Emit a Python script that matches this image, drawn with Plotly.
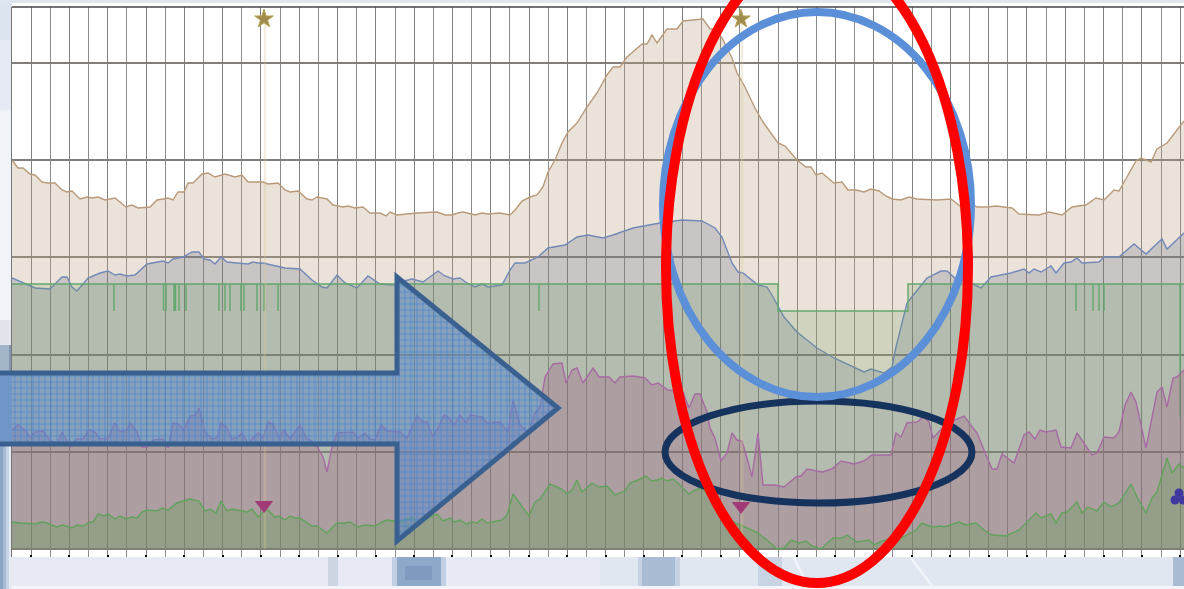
import plotly.graph_objects as go

W, H = 1184, 589
L, T, R, B = 12, 7, 1184, 557

tan_x = [12,18,23,30,35,42,48,55,62,67,72,80,87,92,98,105,115,126,132,138,150,157,163,168,173,178,184,188,193,202,208,215,225,235,242,248,263,268,278,285,290,298,307,312,317,327,333,340,343,348,355,363,370,380,386,390,397,
417,430,437,445,452,458,463,475,482,488,500,510,515,522,530,537,543,548,555,562,568,577,587,597,607,613,620,627,633,642,647,652,657,667,677,683,693,703,710,715,722,732,737,745,755,763,778,785,797,
806,811,816,822,834,842,848,856,864,871,879,886,892,901,909,917,937,951,960,966,977,987,996,1012,1019,1039,1049,1062,1072,1086,1096,1104,1114,1119,1136,1141,1151,1157,1167,1184]
tan_v = [389,381,381,375,374,367,366,366,359,357,358,350,352,351,352,349,351,342,344,341,342,349,350,351,349,357,357,366,366,375,376,372,375,372,374,367,367,365,366,359,357,358,350,349,352,350,344,343,342,343,341,342,336,336,333,337,334,
336,337,337,334,334,336,337,334,336,335,336,334,339,348,352,354,362,377,389,406,417,426,442,456,474,482,482,492,497,505,505,514,506,520,520,528,529,530,520,520,511,491,476,462,441,427,406,403,389,
382,382,374,376,366,367,359,359,357,360,358,353,350,349,352,350,349,350,343,349,342,342,343,341,335,334,337,334,342,344,351,349,359,358,388,391,387,400,406,428]

blue_x = [12,23,35,50,62,67,72,77,88,100,108,115,120,127,135,147,157,163,168,173,183,192,199,204,210,215,221,227,237,248,253,258,263,277,285,300,312,322,327,337,345,357,368,380,393,
400,412,423,438,445,453,460,467,475,482,488,502,510,515,525,538,548,565,577,588,603,613,633,660,682,702,715,722,732,738,743,758,767,773,
784,797,817,834,864,871,884,892,896,901,907,911,927,941,947,956,971,981,991,1011,1024,1029,1034,1041,1051,1056,1064,1071,1077,1082,1099,1104,1119,1134,1146,1162,1167,1184]
blue_v = [271,266,261,260,272,272,262,258,271,276,278,274,275,273,274,285,287,288,286,290,292,297,297,290,289,285,292,287,286,285,287,286,286,283,281,280,269,262,261,274,266,261,273,265,264,
267,270,267,278,273,270,271,266,262,265,262,264,279,286,286,292,301,304,312,314,311,314,321,326,329,328,321,312,286,277,276,264,262,252,
232,217,201,191,177,180,176,182,202,222,246,251,271,278,278,270,266,261,272,276,280,276,280,277,283,276,286,287,291,286,287,292,292,305,295,310,300,316]

purple_x = [12,18,25,30,35,43,50,57,62,70,77,83,89,95,100,108,115,120,127,130,137,142,147,153,163,168,173,178,184,190,195,199,205,212,217,221,227,232,238,242,248,258,263,268,273,279,284,290,300,307,312,318,323,327,332,337,353,358,365,370,375,381,387,
400,407,417,423,427,433,438,444,448,454,460,466,470,482,487,500,508,513,520,528,535,540,545,553,562,566,572,577,583,593,599,609,615,620,633,645,652,658,668,683,689,695,700,707,710,715,721,727,732,737,742,747,752,758,763,775,782,
784,796,801,807,822,832,841,854,864,872,891,896,901,907,917,923,929,933,947,964,977,992,997,1002,1014,1024,1029,1035,1040,1046,1056,1061,1071,1077,1092,1097,1104,1114,1119,1125,1131,1136,1146,1157,1162,1167,1173,1177,1184]
purple_v = [119,124,119,112,117,118,109,105,117,102,110,110,119,117,110,111,126,117,119,126,117,102,102,109,110,101,126,125,119,133,134,141,117,110,111,126,121,110,112,116,106,116,111,127,125,111,119,110,124,110,108,101,92,77,102,116,117,111,116,110,109,124,118,
117,111,133,127,127,112,121,134,132,124,134,126,134,132,126,127,117,149,124,117,136,142,172,185,186,166,179,181,166,181,172,172,166,172,173,171,164,166,159,157,141,155,155,137,121,111,88,96,116,109,108,91,72,116,64,64,62,
62,72,73,80,77,80,88,85,88,94,94,116,112,126,127,132,127,111,126,133,116,80,80,95,86,114,117,110,119,117,119,102,101,116,94,96,112,111,117,144,157,147,101,157,162,142,171,172,179]

green_x = [12,20,35,42,47,56,63,72,77,83,90,93,98,104,108,115,120,126,132,137,142,147,157,162,168,177,190,199,205,210,216,221,227,232,247,252,258,263,268,275,279,285,290,295,300,312,317,327,337,345,350,358,365,375,382,387,
400,412,417,437,443,450,455,460,466,472,477,482,487,502,507,513,529,535,540,550,562,567,572,577,582,592,599,607,615,625,630,638,646,652,657,662,667,673,680,689,695,702,718,728,737,743,758,767,777,
784,791,799,806,812,821,833,842,847,857,869,874,882,891,897,916,922,932,941,944,959,966,976,984,992,1006,1019,1036,1041,1051,1056,1062,1067,1077,1082,1088,1097,1104,1111,1119,1131,1137,1146,1152,1157,1167,1172,1179,1184]
green_v = [27,26,25,27,26,22,24,21,24,23,27,27,35,33,35,30,33,30,32,31,37,39,38,41,39,46,50,48,38,40,36,48,38,40,37,40,32,37,39,32,33,29,33,31,31,23,23,16,26,26,27,22,24,23,27,29,
27,32,27,35,28,31,27,29,25,27,26,30,26,29,34,55,33,47,50,65,60,55,59,69,57,66,62,63,54,58,66,69,73,68,69,71,68,70,64,55,59,61,44,31,25,23,16,9,0,
1,9,6,8,3,0,11,11,14,7,9,4,8,10,9,19,26,22,23,22,27,24,26,19,14,13,19,36,31,35,26,36,37,47,36,42,38,47,42,46,65,52,36,51,57,91,76,85,81]

step_level = 265
dip_level = 238
dip_start, dip_end = 778, 908
spike_x = [114,163.5,166,174,175.5,179,186,219,225,230,241,244,257,264,278,539,1076,1093,1099,1104]
last_spike_x, last_spike_v = 1180, 132

star_x = [264, 741]
star_v = [530, 530]
tri_x = [264, 741]
tri_v = [44, 43]
club_x, club_v = [1179, 1175, 1183], [56, 49, 49]

step_x, step_v = [L], [step_level]
for s in spike_x:
    step_x += [s, s, s]
    step_v += [step_level, dip_level, step_level]
i = step_x.index(1076)
step_x[i:i] = [dip_start, dip_start, dip_end, dip_end]
step_v[i:i] = [step_level, dip_level, dip_level, step_level]
step_x += [last_spike_x, last_spike_x, last_spike_x, 1184]
step_v += [step_level, last_spike_v, step_level, step_level]

def area(x, y, line, fill, w=1.4):
    return go.Scatter(x=x, y=y, mode="lines", fill="tozeroy", fillcolor=fill,
                      line=dict(color=line, width=w, shape="linear"), hoverinfo="skip", showlegend=False)

fig = go.Figure()
fig.add_trace(area(tan_x, tan_v, "#b99a7b", "rgba(188,162,128,0.3)"))
fig.add_trace(area(blue_x, blue_v, "#7389b8", "rgba(65,82,122,0.2)"))
fig.add_trace(area(step_x, step_v, "#62a86e", "rgba(100,152,92,0.2)"))
fig.add_trace(area(purple_x, purple_v, "#a76ba4", "rgba(155,93,129,0.3)"))
fig.add_trace(area(green_x, green_v, "#62a35c", "rgba(94,158,82,0.3)"))

for sx in star_x:
    fig.add_trace(go.Scatter(x=[sx+1, sx+1], y=[0, 530], mode="lines",
                             line=dict(color="rgba(214,200,150,0.3)", width=2.5), hoverinfo="skip", showlegend=False))
fig.add_trace(go.Scatter(x=star_x, y=star_v, mode="markers", hoverinfo="skip", showlegend=False,
                         marker=dict(symbol="star", size=14, color="#a08c4c", line=dict(color="#b8a458", width=1))))
fig.add_trace(go.Scatter(x=tri_x, y=tri_v, mode="markers", hoverinfo="skip", showlegend=False,
                         marker=dict(symbol="triangle-down", size=16, color="#a33a78")))
fig.add_trace(go.Scatter(x=club_x, y=club_v, mode="markers", hoverinfo="skip", showlegend=False,
                         marker=dict(symbol="circle", size=9, color="#41389f")))

arrow_x = [12, 397, 397, 558, 397, 397, 12]
arrow_v = [176, 176, 272, 141, 8, 105, 105]
fig.add_trace(go.Scatter(x=arrow_x, y=arrow_v, mode="lines", fill="toself", hoverinfo="skip", showlegend=False,
                         line=dict(width=0, color="rgba(0,0,0,0)"), fillcolor="rgba(90,140,205,0.45)",
                         fillpattern=dict(shape="+", size=6, solidity=0.25, fgcolor="rgba(70,125,205,0.75)",
                                          bgcolor="rgba(95,140,200,0.55)", fillmode="replace")))

def px(x):
    return (x - L) / (R - L)

def py(y):
    return (B - y) / (B - T)

def ellipse(x0, x1, y0, y1, color, w):
    return dict(type="circle", xref="paper", yref="paper", x0=px(x0), x1=px(x1), y0=py(y1), y1=py(y0),
                line=dict(color=color, width=w), fillcolor="rgba(0,0,0,0)", layer="above")

def band(x0, x1, y0, y1, color):
    return dict(type="rect", xref="paper", yref="paper", x0=px(x0), x1=px(x1), y0=py(y1), y1=py(y0),
                line=dict(width=0), fillcolor=color, layer="below")

def streak(x0, y0, x1, y1):
    return dict(type="line", xref="paper", yref="paper", x0=px(x0), x1=px(x1), y0=py(y0), y1=py(y1),
                line=dict(color="rgba(255,255,255,0.55)", width=2.5), layer="below")

def arrow_path():
    pts = [(-6, 373), (397, 373), (397, 277), (558, 408), (397, 541), (397, 444), (-6, 444)]
    return "M " + " L ".join(f"{px(a)} {py(b)}" for a, b in pts)

shapes = [
    band(0, 12, 0, 40, "#dce4ef"),
    band(0, 12, 40, 110, "#e6ebf3"),
    band(0, 12, 110, 320, "#f0f3f8"),
    band(0, 12, 320, 345, "#e2e6ec"),
    band(0, 12, 345, 373, "#a3b5c9"),
    band(9, 12, 345, 373, "#7f96ae"),
    band(0, 12, 444, 589, "#e6ebf2"),
    band(0, 9, 444, 589, "#c7d4e3"),
    band(0, 6, 444, 589, "#a6bbd2"),
    band(0, 3, 444, 589, "#8aa4c4"),
    band(0, 1184, 0, 3, "#dfe6f0"),
    band(12, 1184, 3, 7, "#ffffff"),
    band(12, 600, 557, 589, "#e7eaf4"),
    band(600, 1184, 557, 589, "#e1e7f1"),
    band(12, 1184, 586, 589, "#f3f5fa"),
    band(328, 338, 557, 586, "#ccd6e3"),
    band(392, 446, 557, 586, "#c2cfe2"),
    band(397, 441, 557, 586, "#8ea8ca"),
    band(405, 432, 566, 580, "#7f9abf"),
    band(638, 680, 557, 586, "#c6d2e3"),
    band(642, 675, 557, 586, "#a9bcd4"),
    band(758, 782, 557, 586, "#c8d4e3"),
    band(1173, 1184, 557, 586, "#a9bcd4"),
    streak(794, 558, 808, 586),
    streak(911, 558, 932, 586),
    dict(type="rect", xref="paper", yref="paper", x0=px(-6), x1=px(12), y0=py(444), y1=py(373),
         fillcolor="#6f96c6", line=dict(width=0), layer="above"),
    dict(type="path", xref="paper", yref="paper", path=arrow_path(),
         line=dict(color="#3a6090", width=5), fillcolor="rgba(0,0,0,0)", layer="above"),
    dict(type="line", xref="paper", yref="paper", x0=0, x1=1, y0=1, y1=1,
         line=dict(color="#444444", width=1.5), layer="above"),
    ellipse(665, 972, 401, 503, "#16335e", 7),
    ellipse(663, 971, 12, 397, "#5b8fd8", 8),
    ellipse(666, 968, -48, 583, "#fe0000", 10),
]

fig.update_layout(
    width=W, height=H, margin=dict(l=L, r=W - R, t=T, b=H - B), autosize=False,
    paper_bgcolor="#e4e9f3", plot_bgcolor="#ffffff", showlegend=False, shapes=shapes,
    xaxis=dict(range=[L, R], tick0=31.15, dtick=38.3, showgrid=True, gridcolor="#808080", gridwidth=1.3,
               minor=dict(tick0=12, dtick=19.15, showgrid=True, gridcolor="#8c8c8c", gridwidth=1.3, ticks=""),
               ticks="inside", ticklen=2, tickwidth=2, tickcolor="#000000", showticklabels=False,
               zeroline=False, showline=False),
    yaxis=dict(range=[-8, 542], tick0=0, dtick=97.2, showgrid=True, gridcolor="#827e7c", gridwidth=1.5,
               showticklabels=False, ticks="", zeroline=False, showline=True, linecolor="#777777", linewidth=1),
)
fig.write_html("out.html", config=dict(displayModeBar=False),
               post_script="document.body.style.margin='0';document.documentElement.style.overflow='hidden';window.dispatchEvent(new Event('resize'));")
